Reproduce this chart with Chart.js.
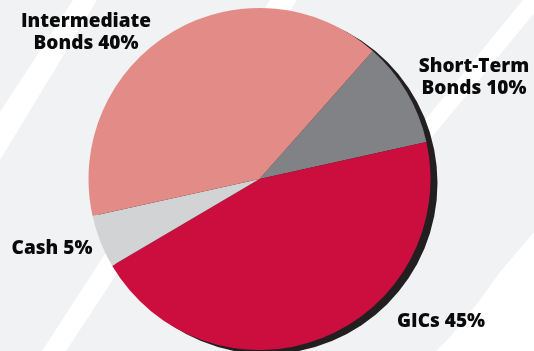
<!DOCTYPE html>
<html>
<head>
<meta charset="utf-8">
<script src="https://cdn.jsdelivr.net/npm/chart.js@4"></script>
<style>
  html, body { margin: 0; padding: 0; background: #f1f2f4; }
  canvas { display: block; }
</style>
</head>
<body>
<canvas id="myChart" width="534" height="351"></canvas>
<script>
// slices, clockwise from the top right
const categories = ['Short-Term\nBonds', 'GICs', 'Cash', 'Intermediate\nBonds'];
const shares = [10, 45, 5, 40];
const sliceColors = ['#808285', '#cc0e3f', '#d1d3d4', '#e38c87'];

// where each label sits: centre x, baseline of first line
const labelPos = [[474, 72], [441, 327], [52, 254], [86, 27]];

// pale brush strokes behind the pie
const stripes = [
  [[73, 0], [97, 0], [0, 160], [0, 112]],
  [[270, 0], [297, 0], [66, 351], [42, 351]],
  [[523, 0], [545, 0], [380, 200], [360, 200]],
  [[534, 232], [534, 351], [436, 351], [450, 337], [480, 300], [500, 272]]
];

const backdrop = {
  id: 'backdrop',
  beforeDraw(chart) {
    const ctx = chart.ctx;
    ctx.save();
    ctx.fillStyle = '#f1f2f4';
    ctx.fillRect(0, 0, chart.width, chart.height);
    ctx.fillStyle = '#ffffff';
    stripes.forEach(pts => {
      ctx.beginPath();
      pts.forEach((p, i) => i ? ctx.lineTo(p[0], p[1]) : ctx.moveTo(p[0], p[1]));
      ctx.closePath();
      ctx.fill();
    });
    ctx.restore();
  }
};

const shadow = {
  id: 'shadow',
  beforeDatasetsDraw(chart) {
    const arc = chart.getDatasetMeta(0).data[0];
    const ctx = chart.ctx;
    ctx.save();
    ctx.fillStyle = '#231f20';
    ctx.beginPath();
    ctx.arc(arc.x + 7, arc.y + 4, arc.outerRadius, 0, Math.PI * 2);
    ctx.fill();
    ctx.restore();
  }
};

const sliceLabels = {
  id: 'sliceLabels',
  afterDatasetsDraw(chart) {
    const ctx = chart.ctx;
    ctx.save();
    ctx.fillStyle = '#0a0a0a';
    ctx.font = '800 19px "Open Sans"';
    ctx.textAlign = 'center';
    ctx.textBaseline = 'alphabetic';
    categories.forEach((cat, i) => {
      const lines = (cat + ' ' + shares[i] + '%').split('\n');
      lines.forEach((line, j) => {
        ctx.fillText(line, labelPos[i][0], labelPos[i][1] + j * 22);
      });
    });
    ctx.restore();
  }
};

new Chart('myChart', {
  type: 'pie',
  data: {
    labels: categories,
    datasets: [{
      data: shares,
      backgroundColor: sliceColors,
      borderWidth: 0
    }]
  },
  options: {
    responsive: false,
    animation: false,
    rotation: 41.5,
    layout: { padding: { left: 88, right: 103, top: 8, bottom: 1 } },
    plugins: {
      legend: { display: false },
      tooltip: { enabled: false }
    }
  },
  plugins: [backdrop, shadow, sliceLabels]
});
</script>
</body>
</html>
